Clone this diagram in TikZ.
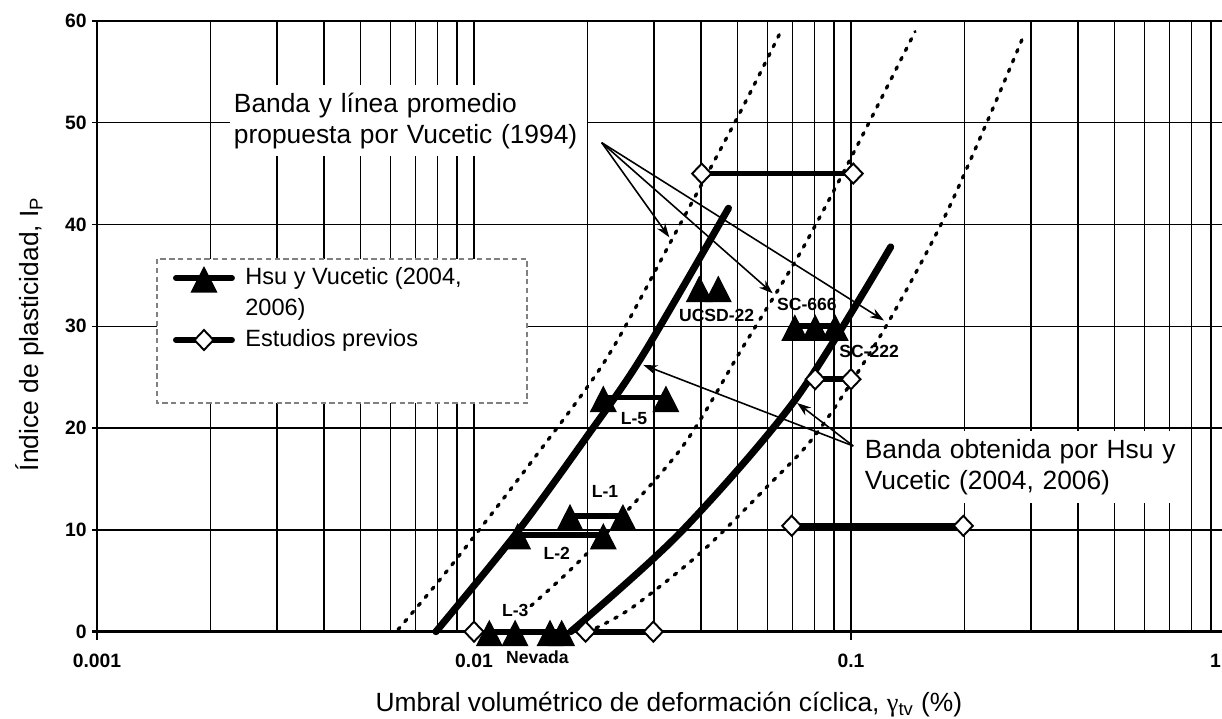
\documentclass[tikz,border=0pt]{standalone}
\usepackage{fontspec}
\setmainfont{Liberation Sans}
\newfontfamily\grk{Liberation Serif}
\usetikzlibrary{arrows.meta}
\tikzset{>={Stealth[length=8pt,width=5.5pt]}}
\tikzset{
  grid line/.style={line width=0.9pt},
  frame line/.style={line width=1.6pt},
  band dots/.style={line width=1.9pt, line cap=round, dash pattern=on 1.6pt off 4.4pt},
  band line/.style={line width=4pt, line cap=round},
  data line/.style={line width=3.2pt},
  legend line/.style={line width=3.4pt, line cap=round},
  legend frame/.style={draw=gray, fill=white, line width=0.7pt, densely dashed},
  label box/.style={fill=white, inner xsep=2pt, inner ysep=4.5pt, align=left,
    font=\fontsize{15}{17.6}\selectfont},
  legend text/.style={inner sep=0pt, align=left, font=\fontsize{13.4}{17.6}\selectfont},
  tag/.style={inner sep=1pt, font=\bfseries\fontsize{10}{12}\selectfont},
  tick label/.style={inner sep=0pt, font=\bfseries\fontsize{11}{13}\selectfont},
  axis title/.style={font=\fontsize{15}{17.6}\selectfont},
  pointer/.style={->, line width=0.9pt}
}
% markers
\newcommand{\tri}[1]{\fill (#1) +(-0.27cm,-0.29cm) -- +(0.27cm,-0.29cm) -- +(0cm,0.24cm) -- cycle;}
\newcommand{\dmd}[1]{\filldraw[fill=white, line width=1.1pt] (#1) +(-0.19cm,0cm) -- +(0cm,0.2cm) -- +(0.19cm,0cm) -- +(0cm,-0.2cm) -- cycle;}

\begin{document}
\begin{tikzpicture}
\useasboundingbox (0,0) rectangle (24.44,14.38);
\clip (0,0) rectangle (24.44,14.38);
\begin{scope}[shift={(1.94cm,1.746cm)}, x=7.54cm, y=0.2036cm]
  % grid
  \foreach \dec in {0,1,2}
    \foreach \m in {2,...,9}
      \draw[grid line] ({\dec+log10(\m)},0) -- ({\dec+log10(\m)},60);
  \foreach \dec in {1,2,3}
    \draw[grid line] (\dec,0) -- (\dec,60);
  \foreach \ip in {10,20,...,60}
    \draw[grid line] (-0.012,\ip) -- (3,\ip);
  \foreach \dec in {0,...,3}
    \draw[grid line] (\dec,0) -- (\dec,-0.8);
  \draw[frame line] (-0.012,0) -- (3,0);
  \draw[frame line] (0,60) -- (0,0);
  % axes
  \foreach \ip in {0,10,...,60}
    \node[tick label, anchor=east] at (-0.0265,\ip) {\ip};
  \foreach \dec/\txt in {0/0.001,1/0.01,2/0.1}
    \node[tick label] at (\dec,-2.9) {\txt};
  \node[tick label, anchor=east] at (2.982,-2.9) {1};
  \node[axis title] (xtitle) at (1.517,-7.2)
    {Umbral volumétrico de deformación cíclica, {\grk γ}\textsubscript{tv} (\%)};
  \node[axis title, rotate=90] (ytitle) at (-0.178,29.24)
    {Índice de plasticidad, I\textsubscript{P}};

  % boxed labels
  \node[label box, anchor=west, text width=7.0cm] (vucetic) at (0.353,50.2)
    {Banda y línea promedio\\propuesta por Vucetic (1994)};
  \node[label box, anchor=west, text width=6.3cm] (hsu) at (2.0265,16.18)
    {Banda obtenida por Hsu y\\Vucetic (2004, 2006)};

  % legend
  \draw[legend frame] (0.159,36.61) rectangle (1.1406,22.47);
  \coordinate (lg1a) at (0.2095,34.74);
  \coordinate (lg1b) at (0.358,34.74);
  \coordinate (lg1m) at (0.2838,34.74);
  \coordinate (lg2a) at (0.2095,28.65);
  \coordinate (lg2b) at (0.358,28.65);
  \coordinate (lg2m) at (0.2838,28.65);
  \draw[legend line] (lg1a) -- (lg1b);
  \tri{lg1m}
  \draw[legend line] (lg2a) -- (lg2b);
  \dmd{lg2m}
  \node[legend text, anchor=west] (lgtxt1) at (0.3926,33.21) {Hsu y Vucetic (2004,\\2006)};
  \node[legend text, anchor=west] (lgtxt2) at (0.3926,28.65) {Estudios previos};

  % Vucetic (1994) band
  \draw[band dots] plot[smooth] coordinates {(0.7984,0.2) (0.9363,6.33) (1.1565,16.89)
    (1.352,26.86) (1.5377,39.4) (1.7056,51.0) (1.8117,58.8)};
  \draw[band dots] plot[smooth] coordinates {(1.1512,2.55) (1.299,7.66) (1.5464,17.85)
    (1.7135,27.97) (1.8647,37.18) (2.0019,46.69) (2.1698,58.94)};
  \draw[band dots] plot[smooth] coordinates {(1.3236,0.36) (1.4218,2.43) (1.5995,7.7)
    (1.7764,14.2) (1.909,19.49) (2.0769,29.0) (2.236,39.8) (2.36,50.0) (2.4562,58.4)};

  % Hsu y Vucetic band
  \draw[band line] plot[smooth] coordinates {(0.899,0) (1.113,9.7) (1.30,19.2)
    (1.445,27) (1.675,41.6)};
  \draw[band line] plot[smooth] coordinates {(1.2565,0) (1.5464,9.7) (1.8515,22.76)
    (2.1053,37.8)};

  % data points
  \coordinate (l1a) at (1.2546,11.37);  \coordinate (l1b) at (1.395,11.37);
  \coordinate (l2a) at (1.116,9.5);     \coordinate (l2b) at (1.343,9.5);
  \coordinate (nva) at (1.0406,0);      \coordinate (nvb) at (1.109,0);
  \coordinate (nvc) at (1.2016,0);      \coordinate (nvd) at (1.2326,0);
  \coordinate (l5a) at (1.343,23);      \coordinate (l5b) at (1.509,23);
  \coordinate (uca) at (1.5976,33.8);   \coordinate (ucb) at (1.648,33.8);
  \coordinate (sca) at (1.851,30);      \coordinate (scb) at (1.905,30);
  \coordinate (scc) at (1.958,30);
  \coordinate (pv0) at (1.0,0);
  \coordinate (pv1) at (1.296,0);       \coordinate (pv2) at (1.4756,0);
  \coordinate (pv3) at (1.905,24.8);    \coordinate (pv4) at (2.0,24.8);
  \coordinate (pv5) at (1.604,45);      \coordinate (pv6) at (2.006,45);
  \coordinate (pv7) at (1.8427,10.4);   \coordinate (pv8) at (2.298,10.4);

  \draw[data line] (l1a) -- (l1b);
  \draw[data line] (l2a) -- (l2b);
  \draw[data line] (nva) -- (nvd);
  \draw[data line] (l5a) -- (l5b);
  \draw[data line] (sca) -- (scc);
  \draw[data line] (pv1) -- (pv2);
  \draw[data line] (pv3) -- (pv4);
  \draw[data line] (pv5) -- (pv6);
  \draw[data line] (pv7) -- (pv8);

  \foreach \p in {l1a,l1b,l2a,l2b,nva,nvb,nvc,nvd,l5a,l5b,uca,ucb,sca,scb,scc}
    {\tri{\p}}
  \foreach \p in {pv0,pv1,pv2,pv3,pv4,pv5,pv6,pv7,pv8}
    {\dmd{\p}}

  % tags
  \node[tag] (tl1) at (1.3475,13.75) {L-1};
  \node[tag] (tl2) at (1.2194,7.7) {L-2};
  \node[tag] (tl3) at (1.1096,2.13) {L-3};
  \node[tag] (tnv) at (1.1684,-2.46) {Nevada};
  \node[tag] (tl5) at (1.4244,20.96) {L-5};
  \node[tag] (tuc) at (1.6437,31.1) {UCSD-22};
  \node[tag] (tsc6) at (1.883,32.1) {SC-666};
  \node[tag] (tsc2) at (2.048,27.5) {SC-222};

  % pointers
  \coordinate (vuc) at (1.3387,48.04);
  \coordinate (va) at (1.518,38.74);
  \coordinate (vb) at (1.7923,33.24);
  \coordinate (vc) at (2.0875,30.57);
  \draw[pointer] (vuc) -- (va);
  \draw[pointer] (vuc) -- (vb);
  \draw[pointer] (vuc) -- (vc);
  \coordinate (hv) at (2.006,18.24);
  \coordinate (ha) at (1.449,26.2);
  \coordinate (hb) at (1.857,22.47);
  \draw[pointer] (hv) -- (ha);
  \draw[pointer] (hv) -- (hb);
\end{scope}
\end{tikzpicture}
\end{document}
